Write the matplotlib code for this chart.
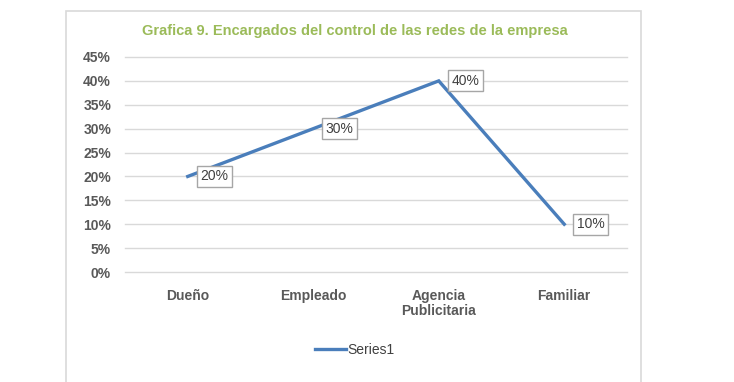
import matplotlib.pyplot as plt
from matplotlib.patches import Rectangle

# Datos de la grafica
Categorias = ["Dueño", "Empleado", "Agencia\nPublicitaria", "Familiar"]
Valores = [0.20, 0.30, 0.40, 0.10]
Etiquetas = ["20%", "30%", "40%", "10%"]
Ticks_Y = [0.0, 0.05, 0.10, 0.15, 0.20, 0.25, 0.30, 0.35, 0.40, 0.45]
Ticks_Y_Lab = ["0%", "5%", "10%", "15%", "20%", "25%", "30%", "35%", "40%", "45%"]
Titulo = "Grafica 9. Encargados del control de las redes de la empresa"

plt.rcParams["font.family"] = ["Liberation Sans", "DejaVu Sans"]

W, H = 734, 382
fig = plt.figure(figsize=(W / 100, H / 100), dpi=100)

# marco del grafico
fig.patches.append(Rectangle((66 / W, -0.05), (641 - 66) / W, (H - 11) / H + 0.05,
                             transform=fig.transFigure, fill=False,
                             edgecolor="#D9D9D9", linewidth=1.2))

ax = fig.add_axes([125 / W, (H - 272) / H, (627 - 125) / W, (272 - 57) / H])
x = list(range(len(Categorias)))
linea, = ax.plot(x, Valores, color="#4A7EBB", linewidth=2.4, solid_joinstyle="miter",
                 label="Series1", zorder=3)

ax.set_xlim(-0.5, len(Categorias) - 0.5)
ax.set_ylim(0, 0.45)
ax.set_yticks(Ticks_Y)
ax.set_yticklabels(Ticks_Y_Lab)
ax.set_xticks(x)
ax.set_xticklabels(Categorias, linespacing=1.15)
ax.tick_params(axis="both", length=0, labelsize=10, labelcolor="#595959")
ax.tick_params(axis="x", pad=12)
ax.tick_params(axis="y", pad=10)
for lab in ax.get_xticklabels() + ax.get_yticklabels():
    lab.set_fontweight("bold")
for s in ax.spines.values():
    s.set_visible(False)
ax.yaxis.grid(True, color="#D9D9D9", linewidth=1)
ax.set_axisbelow(True)
for gl in ax.get_ygridlines():
    gl.set_clip_on(False)

for xi, v, t in zip(x, Valores, Etiquetas):
    ax.annotate(t, (xi, v), xytext=(9, 0), textcoords="offset points",
                ha="left", va="center", fontsize=10, color="#404040", zorder=4,
                bbox=dict(boxstyle="square,pad=0.25", facecolor="white",
                          edgecolor="#A6A6A6", linewidth=1))

fig.text(355 / W, (H - 31) / H, Titulo, ha="center", va="center",
         fontsize=10.5, fontweight="bold", color="#9BBB59")

leg = fig.legend(handles=[linea], loc="center", bbox_to_anchor=(355 / W, (H - 350) / H),
                 frameon=False, fontsize=10, handlelength=2.2, handletextpad=0.1)
for t in leg.get_texts():
    t.set_color("#404040")

fig.savefig("out.png", dpi=100)
